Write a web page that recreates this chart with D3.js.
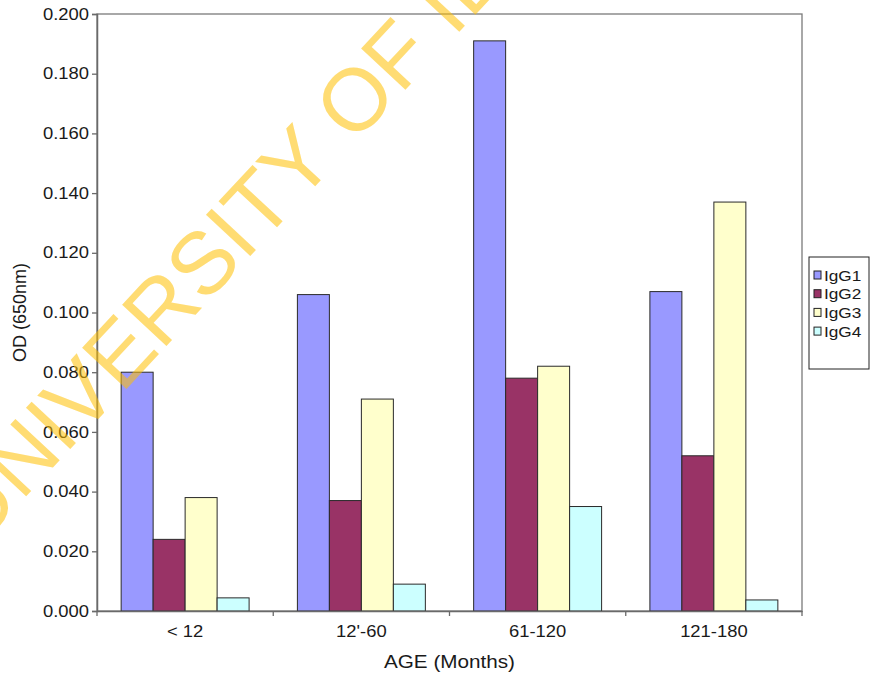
<!DOCTYPE html>
<html>
<head>
<meta charset="utf-8">
<script src="https://cdn.jsdelivr.net/npm/d3@7"></script>
<style>
  html, body { margin: 0; padding: 0; background: #fff; }
  svg { display: block; }
  text { font-family: "Liberation Sans", Arial, Helvetica, sans-serif; fill: #1a1a1a; }
</style>
</head>
<body>
<svg id="chart" width="871" height="677"></svg>
<script>
// ---- data ----
const categories = ["< 12", "12'-60", "61-120", "121-180"];
const seriesNames = ["IgG1", "IgG2", "IgG3", "IgG4"];
const igg1 = [0.080, 0.106, 0.191, 0.107];
const igg2 = [0.024, 0.037, 0.078, 0.052];
const igg3 = [0.038, 0.071, 0.082, 0.137];
const igg4 = [0.0044, 0.009, 0.035, 0.0037];
const yTicks = [0, 0.02, 0.04, 0.06, 0.08, 0.10, 0.12, 0.14, 0.16, 0.18, 0.20];
const colors = ["#9999FF", "#993366", "#FFFFCC", "#CCFFFF"];
const xTitle = "AGE (Months)";
const yTitle = "OD (650nm)";
const watermark = "UNIVERSITY OF IBADAN";

const seriesValues = [igg1, igg2, igg3, igg4];

// ---- layout ----
const W = 871, H = 677;
const plot = { left: 97, right: 802, top: 14, bottom: 611 };
const STRETCH = 1.15; // horizontal stretch of text in the reference

const svg = d3.select("#chart");

const x0 = d3.scaleBand().domain(categories)
  .range([plot.left, plot.right]).paddingInner(0.274).paddingOuter(0.137);
const x1 = d3.scaleBand().domain(seriesNames).range([0, x0.bandwidth()]);
const y = d3.scaleLinear().domain([0, 0.2]).range([plot.bottom, plot.top]);

// frame
svg.append("rect")
  .attr("x", plot.left).attr("y", plot.top)
  .attr("width", plot.right - plot.left).attr("height", plot.bottom - plot.top)
  .attr("fill", "none").attr("stroke", "#7a7a7a").attr("stroke-width", 1.3);

// bars
const rows = categories.map((c, i) => ({ cat: c, vals: seriesNames.map((s, j) => ({ s, j, v: seriesValues[j][i] })) }));
const g = svg.append("g");
g.selectAll("g.cat").data(rows).join("g")
  .attr("transform", d => `translate(${x0(d.cat)},0)`)
  .selectAll("rect").data(d => d.vals).join("rect")
  .attr("x", d => x1(d.s))
  .attr("y", d => y(d.v))
  .attr("width", x1.bandwidth())
  .attr("height", d => y(0) - y(d.v))
  .attr("fill", d => colors[d.j])
  .attr("stroke", "#2a2a2a").attr("stroke-width", 1);

// y axis
const yAxis = svg.append("g").attr("transform", `translate(${plot.left},0)`)
  .call(d3.axisLeft(y).tickValues(yTicks).tickFormat(d3.format(".3f")).tickSize(5).tickPadding(3));
yAxis.select(".domain").attr("stroke", "#6a6a6a").attr("stroke-width", 1.5);
yAxis.selectAll(".tick line").attr("stroke", "#6a6a6a").attr("stroke-width", 1.3);
yAxis.selectAll(".tick text").attr("font-size", 16).attr("fill", "#1a1a1a")
  .attr("font-family", "Liberation Sans, Arial, sans-serif")
  .attr("transform", `translate(-8,0) scale(${STRETCH},1) translate(8,0)`);

// x axis (labels)
const xAxis = svg.append("g").attr("transform", `translate(0,${plot.bottom})`)
  .call(d3.axisBottom(x0).tickSize(0).tickPadding(15));
xAxis.select(".domain").attr("stroke", "#6a6a6a").attr("stroke-width", 1.5);
xAxis.selectAll(".tick text").attr("font-size", 16).attr("fill", "#1a1a1a")
  .attr("font-family", "Liberation Sans, Arial, sans-serif")
  .attr("transform", `scale(${STRETCH},1)`)
  .attr("transform", null)
  .style("transform", `scaleX(${STRETCH})`).style("transform-box", "fill-box").style("transform-origin", "center");
// category boundary ticks
const bounds = categories.map(c => x0(c) - x0.step() * x0.paddingOuter()).concat([plot.right]);
svg.append("g").selectAll("line").data(bounds).join("line")
  .attr("x1", d => d).attr("x2", d => d)
  .attr("y1", plot.bottom).attr("y2", plot.bottom + 5)
  .attr("stroke", "#6a6a6a").attr("stroke-width", 1.3);

// axis titles
svg.append("text")
  .attr("x", (plot.left + plot.right) / 2).attr("y", 668)
  .attr("text-anchor", "middle").attr("font-size", 18)
  .style("transform", `scaleX(${STRETCH})`).style("transform-box", "fill-box").style("transform-origin", "center")
  .text(xTitle);
svg.append("text")
  .attr("transform", `translate(26,${(plot.top + plot.bottom) / 2}) rotate(-90)`)
  .attr("text-anchor", "middle").attr("font-size", 18)
  .text(yTitle);

// legend
const lg = svg.append("g").attr("transform", "translate(809,257)");
lg.append("rect").attr("width", 60).attr("height", 112)
  .attr("fill", "#fff").attr("stroke", "#222").attr("stroke-width", 1);
const li = lg.selectAll("g.item").data(seriesNames).join("g")
  .attr("transform", (d, i) => `translate(5,${18 + i * 18.7})`);
li.append("rect").attr("x", 0).attr("y", -4).attr("width", 7).attr("height", 8)
  .attr("fill", (d, i) => colors[i]).attr("stroke", "#222").attr("stroke-width", 1);
li.append("text").attr("x", 10).attr("y", 5.5).attr("font-size", 15)
  .style("transform", `scaleX(${STRETCH})`).style("transform-box", "fill-box").style("transform-origin", "left")
  .text(d => d);

// watermark
svg.append("text")
  .attr("transform", "translate(-22,548) rotate(-47)")
  .attr("font-size", 88)
  .attr("fill", "#FFC000").attr("fill-opacity", 0.55)
  .style("fill", "#FFC000")
  .text(watermark);
</script>
</body>
</html>
